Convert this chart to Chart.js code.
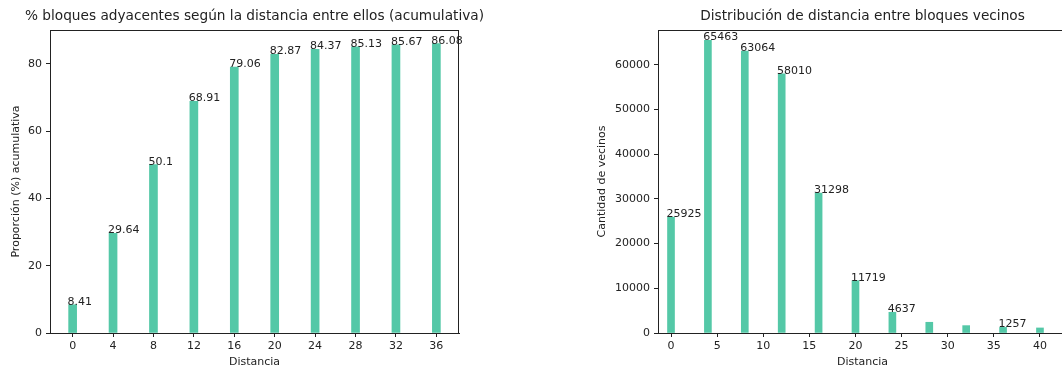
<!DOCTYPE html>
<html>
<head>
<meta charset="utf-8">
<script src="https://cdn.jsdelivr.net/npm/chart.js@4.4.1/dist/chart.umd.min.js"></script>
<style>
    html, body { margin: 0; padding: 0; background: #fff; }
    #wrap { position: relative; width: 1062px; height: 367px; overflow: hidden; }
    canvas { position: absolute; top: 0; }
</style>
</head>
<body>
<div id="wrap">
    <canvas id="chartAcum" width="531" height="367" style="left:0"></canvas>
    <canvas id="chartDist" width="600" height="367" style="left:531px"></canvas>
</div>
<script>
// datos grafico izquierdo (acumulativo)
const distAcum = [0, 4, 8, 12, 16, 20, 24, 28, 32, 36];
const propAcum = [8.41, 29.64, 50.1, 68.91, 79.06, 82.87, 84.37, 85.13, 85.67, 86.08];
const etiquetasAcum = ['8.41', '29.64', '50.1', '68.91', '79.06', '82.87', '84.37', '85.13', '85.67', '86.08'];
const ticksXAcum = [0, 4, 8, 12, 16, 20, 24, 28, 32, 36];
const ticksYAcum = [0, 20, 40, 60, 80];

// datos grafico derecho (distribucion)
const distVecinos = [0, 4, 8, 12, 16, 20, 24, 28, 32, 36, 40];
const cantVecinos = [25925, 65463, 63064, 58010, 31298, 11719, 4637, 2400, 1650, 1257, 1130];
const etiquetasVecinos = ['25925', '65463', '63064', '58010', '31298', '11719', '4637', null, null, '1257', null];
const ticksXVecinos = [0, 5, 10, 15, 20, 25, 30, 35, 40];
const ticksYVecinos = [0, 10000, 20000, 30000, 40000, 50000, 60000];

const verde = '#54c8a7';
const fuente = 'DejaVu Sans';
const colorTexto = '#222';

// dibuja marco, titulos y etiquetas de cada barra
const decoracion = {
    id: 'decoracion',
    afterDraw(chart, args, opts) {
        const ctx = chart.ctx;
        const a = chart.chartArea;
        ctx.save();
        ctx.strokeStyle = '#222';
        ctx.lineWidth = 1;
        ctx.strokeRect(Math.round(a.left) + 0.5, Math.round(a.top) + 0.5,
            Math.round(a.right - a.left) - 1, Math.round(a.bottom - a.top));

        ctx.fillStyle = colorTexto;
        ctx.textBaseline = 'alphabetic';

        // etiquetas de valores
        ctx.font = '11px "' + fuente + '"';
        ctx.textAlign = 'left';
        let xs = chart.scales.x, ys = chart.scales.y;
        let ds = chart.data.datasets[0];
        for (let i in ds.data) {
            let lbl = opts.etiquetas[i];
            if (lbl == null) continue;
            let px = xs.getPixelForValue(ds.data[i].x - 0.5);
            let py = ys.getPixelForValue(ds.data[i].y);
            ctx.fillText(lbl, px, py);
        }

        // titulo
        let cx = (a.left + a.right) / 2;
        ctx.font = '13.7px "' + fuente + '"';
        ctx.textAlign = 'center';
        ctx.fillText(opts.titulo, cx, 20);

        // titulo eje x
        ctx.font = '11px "' + fuente + '"';
        ctx.fillText('Distancia', cx, 365);

        // titulo eje y
        ctx.translate(opts.yLabelX, (a.top + a.bottom) / 2);
        ctx.rotate(-Math.PI / 2);
        ctx.textBaseline = 'middle';
        ctx.fillText(opts.yLabel, 0, 0);
        ctx.restore();
    }
};

function makeChart(id, xs, ys, cfg) {
    let puntos = [];
    for (let i in xs) puntos.push({ x: xs[i], y: ys[i] });

    return new Chart(document.getElementById(id), {
        type: 'bar',
        data: {
            datasets: [{
                data: puntos,
                backgroundColor: verde,
                borderWidth: 0,
                barThickness: cfg.barra
            }]
        },
        options: {
            responsive: false,
            animation: false,
            devicePixelRatio: 1,
            layout: { padding: { left: 0, right: cfg.padRight, top: 30, bottom: 0 } },
            plugins: {
                legend: { display: false },
                tooltip: { enabled: false },
                decoracion: cfg.deco
            },
            scales: {
                x: {
                    type: 'linear',
                    offset: false,
                    min: cfg.xMin,
                    max: cfg.xMax,
                    afterBuildTicks: function (s) { s.ticks = cfg.xTicks.map(v => ({ value: v })); },
                    afterFit: function (s) { s.height = 34; },
                    grid: { offset: false, drawOnChartArea: false, tickLength: 4, color: '#222' },
                    border: { color: '#222' },
                    ticks: {
                        color: colorTexto, padding: 3, maxRotation: 0, autoSkip: false,
                        font: { family: fuente, size: 11 },
                        callback: v => String(v)
                    }
                },
                y: {
                    min: 0,
                    max: cfg.yMax,
                    afterBuildTicks: function (s) { s.ticks = cfg.yTicks.map(v => ({ value: v })); },
                    afterFit: function (s) { s.width = cfg.yWidth; },
                    grid: { drawOnChartArea: false, tickLength: 4, color: '#222' },
                    border: { color: '#222' },
                    ticks: {
                        color: colorTexto, padding: 4,
                        font: { family: fuente, size: 11 },
                        callback: v => String(v)
                    }
                }
            }
        },
        plugins: [decoracion]
    });
}

makeChart('chartAcum', distAcum, propAcum, {
    barra: 8, padRight: 72, yWidth: 50,
    xMin: -2.24, xMax: 38.24, xTicks: ticksXAcum,
    yMax: 90.1, yTicks: ticksYAcum,
    deco: {
        etiquetas: etiquetasAcum,
        titulo: '% bloques adyacentes según la distancia entre ellos (acumulativa)',
        yLabel: 'Proporción (%) acumulativa',
        yLabelX: 16
    }
});

makeChart('chartDist', distVecinos, cantVecinos, {
    barra: 7, padRight: 64, yWidth: 127,
    xMin: -1.41, xMax: 42.93, xTicks: ticksXVecinos,
    yMax: 67800, yTicks: ticksYVecinos,
    deco: {
        etiquetas: etiquetasVecinos,
        titulo: 'Distribución de distancia entre bloques vecinos',
        yLabel: 'Cantidad de vecinos',
        yLabelX: 71
    }
});
</script>
</body>
</html>
